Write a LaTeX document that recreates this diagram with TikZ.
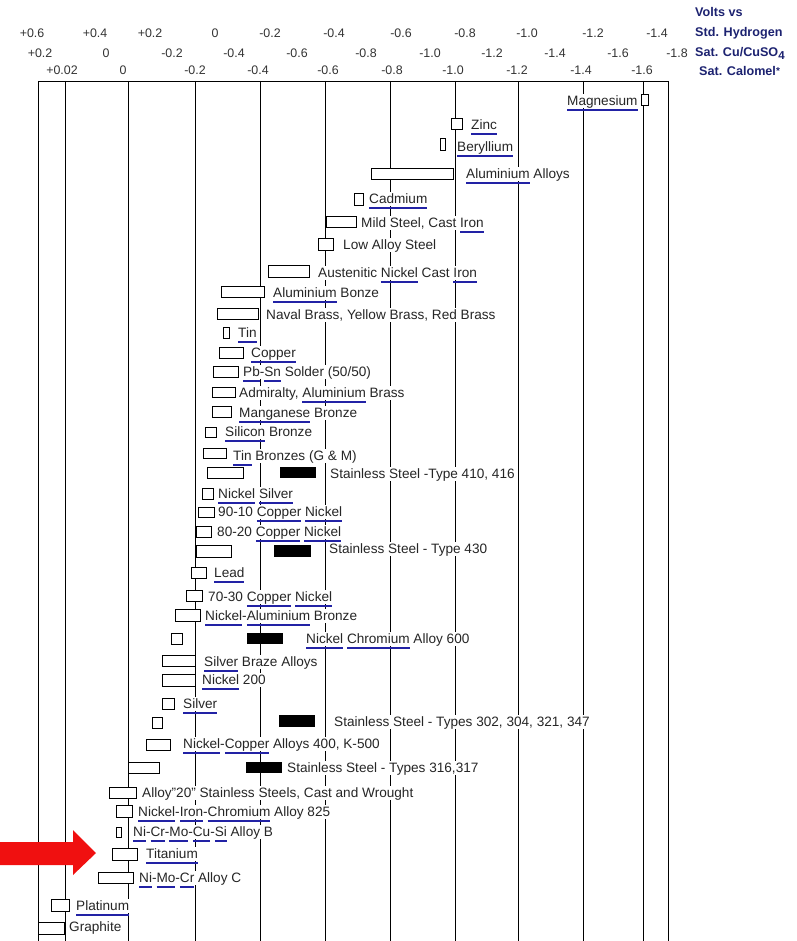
\documentclass[tikz,border=0pt]{standalone}
\usepackage{fontspec}
\setmainfont{Liberation Sans}
\definecolor{linkblue}{RGB}{34,34,165}
\definecolor{headblue}{RGB}{28,34,112}
\definecolor{labeltext}{RGB}{38,38,38}
\definecolor{arrowred}{RGB}{240,16,16}
% blue link underline under a word
\newcommand{\lnk}[1]{\setbox0=\hbox{#1}\rlap{\color{linkblue}\rule[-5.6pt]{\wd0}{2pt}}\box0\relax}

\begin{document}
\begin{tikzpicture}
[x=1pt,y=-1pt,every node/.style={font=\fontsize{13.6}{15}\selectfont,text=labeltext}]
\tikzset{metal/.style = {anchor=west,inner sep=0pt,fill=white,text height=11.6pt,text depth=2pt}}
\tikzset{potbox/.style = {draw=black,fill=white,line width=0.9pt}}
\tikzset{livebox/.style = {fill=black}}
\tikzset{gridline/.style = {draw=black,line width=0.9pt}}
\tikzset{voltlabel/.style = {inner sep=0pt,font=\fontsize{12.4}{14}\selectfont,text=black!80}}
\tikzset{scalehead/.style = {anchor=west,inner sep=0pt,font=\bfseries\fontsize{12.6}{14}\selectfont,text=headblue}}
\useasboundingbox (0,0) rectangle (796,941);
% frame and grid
\draw[gridline] (38,81) -- (668,81);
\foreach \x in {38,65,128,195,260,325,390,455,518,583,643,668}
  \draw[gridline] (\x,81) -- (\x,941);
% scales
\foreach \x/\v in {32/+0.6,95/+0.4,150/+0.2,215/0,270/-0.2,334/-0.4,401/-0.6,465/-0.8,527/-1.0,593/-1.2,657/-1.4}
  \node[voltlabel] (h\x) at (\x,33) {\v};
\foreach \x/\v in {40/+0.2,106/0,172/-0.2,234/-0.4,297/-0.6,366/-0.8,430/-1.0,492/-1.2,555/-1.4,618/-1.6,677/-1.8}
  \node[voltlabel] (c\x) at (\x,53) {\v};
\foreach \x/\v in {62/+0.02,123/0,195/-0.2,258/-0.4,328/-0.6,392/-0.8,453/-1.0,517/-1.2,581/-1.4,642/-1.6}
  \node[voltlabel] (k\x) at (\x,70) {\v};
\node[scalehead] (vv) at (695,12) {Volts vs};
\node[scalehead] (sh) at (695,33) {Std. Hydrogen};
\node[scalehead] (sc) at (695,53) {Sat. Cu/CuSO\raisebox{-3pt}{\fontsize{11.5}{12}\selectfont 4}};
\node[scalehead] (sk) at (699,71) {Sat. Calomel\raisebox{1pt}{\fontsize{10}{10}\selectfont *}};
% potential ranges
\draw[potbox] (641,94) rectangle (648,105);
\draw[potbox] (451,118) rectangle (462,129);
\draw[potbox] (440,138) rectangle (445,150);
\draw[potbox] (371,168) rectangle (453,179);
\draw[potbox] (354,193) rectangle (363,205);
\draw[potbox] (326,216) rectangle (356,227);
\draw[potbox] (318,238) rectangle (333,250);
\draw[potbox] (268,265) rectangle (309,277);
\draw[potbox] (221,286) rectangle (264,297);
\draw[potbox] (217,308) rectangle (258,319);
\draw[potbox] (223,327) rectangle (229,338);
\draw[potbox] (219,347) rectangle (243,358);
\draw[potbox] (213,366) rectangle (238,377);
\draw[potbox] (212,387) rectangle (235,397);
\draw[potbox] (212,406) rectangle (231,417);
\draw[potbox] (205,427) rectangle (216,437);
\draw[potbox] (203,448) rectangle (226,458);
\draw[potbox] (207,467) rectangle (243,478);
\fill[livebox] (280,467) rectangle (316,478);
\draw[potbox] (202,488) rectangle (213,499);
\draw[potbox] (198,507) rectangle (214,517);
\draw[potbox] (196,526) rectangle (211,537);
\draw[potbox] (196,545) rectangle (231,557);
\fill[livebox] (274,545) rectangle (311,557);
\draw[potbox] (191,567) rectangle (206,578);
\draw[potbox] (186,590) rectangle (202,601);
\draw[potbox] (175,609) rectangle (200,621);
\draw[potbox] (171,633) rectangle (182,644);
\fill[livebox] (247,633) rectangle (283,644);
\draw[potbox] (162,655) rectangle (195,666);
\draw[potbox] (162,674) rectangle (195,686);
\draw[potbox] (162,698) rectangle (174,709);
\draw[potbox] (152,717) rectangle (162,728);
\fill[livebox] (279,715) rectangle (315,727);
\draw[potbox] (146,739) rectangle (170,750);
\draw[potbox] (128,762) rectangle (159,773);
\fill[livebox] (246,762) rectangle (282,773);
\draw[potbox] (109,787) rectangle (136,798);
\draw[potbox] (116,805) rectangle (132,817);
\draw[potbox] (116,827) rectangle (121,837);
\draw[potbox] (112,848) rectangle (137,860);
\draw[potbox] (98,872) rectangle (133,883);
\draw[potbox] (51,899) rectangle (69,911);
\draw[potbox] (38,922) rectangle (64,934);
% metals
\node[metal] (mg) at (567,101) {\lnk{Magnesium}};
\node[metal] (zn) at (471,125) {\lnk{Zinc}};
\node[metal] (be) at (457,147) {\lnk{Beryllium}};
\node[metal] (al) at (466,174) {\lnk{Aluminium} Alloys};
\node[metal] (cd) at (369,199) {\lnk{Cadmium}};
\node[metal] (ms) at (361,223) {Mild Steel, Cast \lnk{Iron}};
\node[metal] (las) at (343,245) {Low Alloy Steel};
\node[metal] (ani) at (318,273) {Austenitic \lnk{Nickel} Cast \lnk{Iron}};
\node[metal] (alb) at (273,293) {\lnk{Aluminium} Bonze};
\node[metal] (nb) at (266,315) {Naval Brass, Yellow Brass, Red Brass};
\node[metal] (sn) at (238,333) {\lnk{Tin}};
\node[metal] (cu) at (251,353) {\lnk{Copper}};
\node[metal] (pbsn) at (243,372) {\lnk{Pb}-\lnk{Sn} Solder (50/50)};
\node[metal] (adm) at (239,393) {Admiralty, \lnk{Aluminium} Brass};
\node[metal] (mn) at (239,413) {\lnk{Manganese} Bronze};
\node[metal] (si) at (225,432) {\lnk{Silicon} Bronze};
\node[metal] (tb) at (233,456) {\lnk{Tin} Bronzes (G \& M)};
\node[metal] (ss410) at (330,474) {Stainless Steel -Type 410, 416};
\node[metal] (nis) at (218,494) {\lnk{Nickel} \lnk{Silver}};
\node[metal] (cn90) at (218,512) {90-10 \lnk{Copper} \lnk{Nickel}};
\node[metal] (cn80) at (217,532) {80-20 \lnk{Copper} \lnk{Nickel}};
\node[metal] (ss430) at (329,549) {Stainless Steel - Type 430};
\node[metal] (pb) at (214,573) {\lnk{Lead}};
\node[metal] (cn70) at (208,597) {70-30 \lnk{Copper} \lnk{Nickel}};
\node[metal] (nal) at (205,616) {\lnk{Nickel}-\lnk{Aluminium} Bronze};
\node[metal] (nc600) at (306,639) {\lnk{Nickel} \lnk{Chromium} Alloy 600};
\node[metal] (agb) at (204,662) {\lnk{Silver} Braze Alloys};
\node[metal] (ni200) at (202,680) {\lnk{Nickel} 200};
\node[metal] (ag) at (183,704) {\lnk{Silver}};
\node[metal] (ss302) at (334,722) {Stainless Steel - Types 302, 304, 321, 347};
\node[metal] (ncu) at (183,744) {\lnk{Nickel}-\lnk{Copper} Alloys 400, K-500};
\node[metal] (ss316) at (287,768) {Stainless Steel - Types 316,317};
\node[metal] (a20) at (142,793) {Alloy"20" Stainless Steels, Cast and Wrought};
\node[metal] (a825) at (138,812) {\lnk{Nickel}-\lnk{Iron}-\lnk{Chromium} Alloy 825};
\node[metal] (ab) at (133,832) {\lnk{Ni}-\lnk{Cr}-\lnk{Mo}-\lnk{Cu}-\lnk{Si} Alloy B};
\node[metal] (ti) at (146,854) {\lnk{Titanium}};
\node[metal] (ac) at (139,878) {\lnk{Ni}-\lnk{Mo}-\lnk{Cr} Alloy C};
\node[metal] (pt) at (76,906) {\lnk{Platinum}};
\node[metal] (gr) at (69,927) {Graphite};
% pointer
\fill[arrowred] (0,842) -- (73,842) -- (73,830) -- (96,853) -- (73,875) -- (73,865) -- (0,865) -- cycle;
\end{tikzpicture}
\end{document}
